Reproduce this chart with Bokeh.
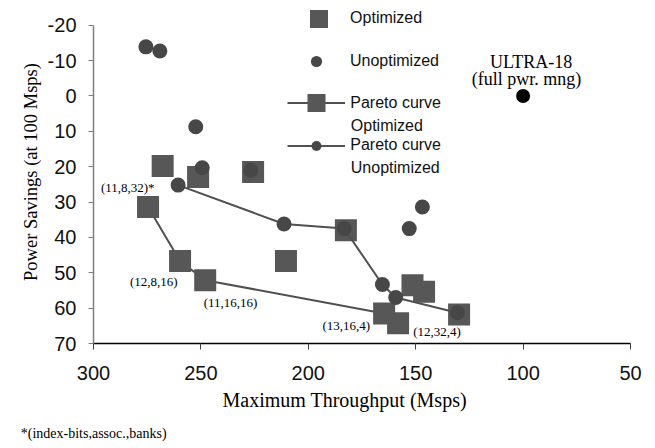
import math
from bokeh.plotting import figure
from bokeh.models import (Range1d, FixedTicker, Legend, LegendItem, Label,
                          ColumnDataSource, Title)
from bokeh.embed import file_html
from bokeh.resources import INLINE
from bokeh.core.properties import value

# ---------------- data ----------------
x_ticks = [300, 250, 200, 150, 100, 50]
y_ticks = [-20, -10, 0, 10, 20, 30, 40, 50, 60, 70]

# Optimized configurations (squares)
opt_x = [267.8, 251.3, 225.7, 210.4, 182.5, 151.5, 146.1, 158.2, 129.8]
opt_y = [19.8, 22.9, 21.5, 46.7, 38.0, 53.5, 55.4, 64.3, 61.8]

# Unoptimized configurations (circles)
unopt_x = [275.6, 269.1, 252.4, 249.4, 226.8, 146.9, 153.0]
unopt_y = [-13.9, -12.7, 8.7, 20.3, 21.0, 31.4, 37.5]

# Pareto curve, optimized
pareto_opt_x = [274.6, 259.7, 248.0, 164.7]
pareto_opt_y = [31.4, 46.7, 52.1, 61.5]

# Pareto curve, unoptimized
pareto_unopt_x = [260.6, 211.3, 183.3, 165.5, 159.3, 130.6]
pareto_unopt_y = [25.2, 36.2, 37.5, 53.3, 57.0, 61.3]

# ULTRA-18 reference point
ultra_x = [100.0]
ultra_y = [0.0]

# configuration labels (index-bits, assoc., banks)
config_labels = ["(11,8,32)*", "(12,8,16)", "(11,16,16)", "(13,16,4)", "(12,32,4)"]
config_anchor_x = [pareto_unopt_x[0], pareto_opt_x[1], pareto_opt_x[2], pareto_opt_x[3], opt_x[8]]
config_anchor_y = [pareto_unopt_y[0], pareto_opt_y[1], pareto_opt_y[2], pareto_opt_y[3], opt_y[8]]

ultra_labels = ["ULTRA-18", "(full pwr. mng)"]

# ---------------- styles ----------------
SANS = "Liberation Sans"
SERIF = "Liberation Serif"
SQ_COLOR = "#575757"
CI_COLOR = "#474747"
LINE_COLOR = "#505050"

p = figure(width=655, height=448, output_backend="svg", toolbar_location=None,
           x_range=Range1d(300, 50), y_range=Range1d(70, -27.0),
           min_border_left=93, min_border_right=25, min_border_top=0,
           min_border_bottom=105)
p.outline_line_color = None
p.xgrid.visible = False
p.ygrid.visible = False
p.background_fill_color = "white"
p.border_fill_color = "white"

# axes
p.xaxis.ticker = FixedTicker(ticks=x_ticks)
p.yaxis.ticker = FixedTicker(ticks=y_ticks)
p.yaxis.bounds = (min(y_ticks), max(y_ticks))
p.yaxis.major_label_overrides = {t: str(t) for t in y_ticks}
p.xaxis.major_label_overrides = {t: str(t) for t in x_ticks}
p.xaxis.minor_tick_line_color = None
p.yaxis.minor_tick_line_color = None
p.xaxis.major_tick_in = 0
p.xaxis.major_tick_out = 6
p.yaxis.major_tick_in = 0
p.yaxis.major_tick_out = 5
p.xaxis.axis_line_color = "black"
p.xaxis.major_tick_line_color = "#404040"
p.yaxis.axis_line_color = "#808080"
p.yaxis.major_tick_line_color = "#808080"
p.xaxis.axis_line_width = 1.5
p.yaxis.axis_line_width = 1.5
for ax in (p.xaxis, p.yaxis):
    ax.major_label_text_font = SANS
    ax.major_label_text_font_size = "20px"
    ax.major_label_text_color = "#111111"
p.xaxis.major_label_standoff = 16
p.yaxis.major_label_standoff = 12

p.yaxis.axis_label = "Power Savings (at 100 Msps)"
p.yaxis.axis_label_text_font = SERIF
p.yaxis.axis_label_text_font_size = "18.5px"
p.yaxis.axis_label_text_font_style = "normal"
p.yaxis.axis_label_text_color = "black"
p.yaxis.axis_label_standoff = 4

# scatter series
r_opt = p.scatter(opt_x, opt_y, marker="square", size=22, fill_color=SQ_COLOR,
                  line_color=None)
r_unopt = p.scatter(unopt_x, unopt_y, marker="circle", size=15,
                    fill_color=CI_COLOR, line_color=None)

# Pareto curves
r_po_line = p.line(pareto_opt_x, pareto_opt_y, line_color=LINE_COLOR, line_width=2)
r_po_pts = p.scatter(pareto_opt_x, pareto_opt_y, marker="square", size=22,
                     fill_color=SQ_COLOR, line_color=None)
r_pu_line = p.line(pareto_unopt_x, pareto_unopt_y, line_color=LINE_COLOR, line_width=2)
r_pu_pts = p.scatter(pareto_unopt_x, pareto_unopt_y, marker="circle", size=15,
                     fill_color=CI_COLOR, line_color=None)

# ULTRA-18
p.scatter(ultra_x, ultra_y, marker="circle", size=14, fill_color="black",
          line_color=None)

# configuration labels
cfg_src = ColumnDataSource(dict(
    x=config_anchor_x, y=config_anchor_y, text=config_labels,
    xo=[-50.4, -26.3, 25.4, -37.8, -22.0],
    yo=[2.0, 20.7, 22.7, 11.7, 17.4]))
p.text(x="x", y="y", text="text", x_offset="xo", y_offset="yo", source=cfg_src,
       text_align="center", text_baseline="middle",
       text_font=value(SERIF), text_font_size="13px", text_color="black")

ult_src = ColumnDataSource(dict(
    x=ultra_x * 2, y=ultra_y * 2, text=ultra_labels,
    xo=[8.0, 3.3], yo=[-33.5, -17.2]))
p.text(x="x", y="y", text="text", x_offset="xo", y_offset="yo", source=ult_src,
       text_align="center", text_baseline="middle",
       text_font=value(SERIF), text_font_size="18px", text_color="black")

# x-axis title and footnote as titles in the bottom panel
FL, FB = 92.7, 343.3
p.add_layout(Title(text="Maximum Throughput (Msps)", align="left", offset=221.7 - FL,
                   text_font=SERIF, text_font_size="20px", text_font_style="normal",
                   text_color="black", standoff=9), "below")
p.add_layout(Title(text="*(index-bits,assoc.,banks)", align="left", offset=20 - FL,
                   text_font=SERIF, text_font_size="14px", text_font_style="normal",
                   text_color="black", standoff=16), "below")

# legends (one per entry, positioned individually)
def make_legend(label, renderers, gw, gh, left, cy, standoff):
    lg = Legend(items=[LegendItem(label=label, renderers=renderers)],
                location=(left - FL, FB - (cy + gh / 2.0)),
                glyph_width=int(gw), glyph_height=int(gh),
                label_standoff=int(round(standoff)),
                padding=0, margin=0, spacing=0, border_line_color=None,
                background_fill_alpha=0, label_text_font=SANS,
                label_text_font_size="16px", label_text_color="#111111",
                label_height=10, label_width=10)
    p.add_layout(lg, "center")
    return lg

make_legend("Optimized", [r_opt], 45, 45, 318.3 - 22.5, 18.5, 9)
make_legend("Unoptimized", [r_unopt], 28, 28, 315.7 - 14, 61.5, 20)
make_legend("Pareto curve", [r_po_line, r_po_pts], 58, 45, 287, 103, 5)
make_legend("Pareto curve", [r_pu_line, r_pu_pts], 58, 25, 287, 145.5, 5)

p.add_layout(Label(x=350 - FL, y=FB - 125, x_units="screen", y_units="screen",
                   text="Optimized", text_align="left", text_baseline="middle",
                   text_font=SANS, text_font_size="16px", text_color="#111111"))
p.add_layout(Label(x=350 - FL, y=FB - 167.3, x_units="screen", y_units="screen",
                   text="Unoptimized", text_align="left", text_baseline="middle",
                   text_font=SANS, text_font_size="16px", text_color="#111111"))

open("out.html", "w").write(file_html(p, INLINE))
